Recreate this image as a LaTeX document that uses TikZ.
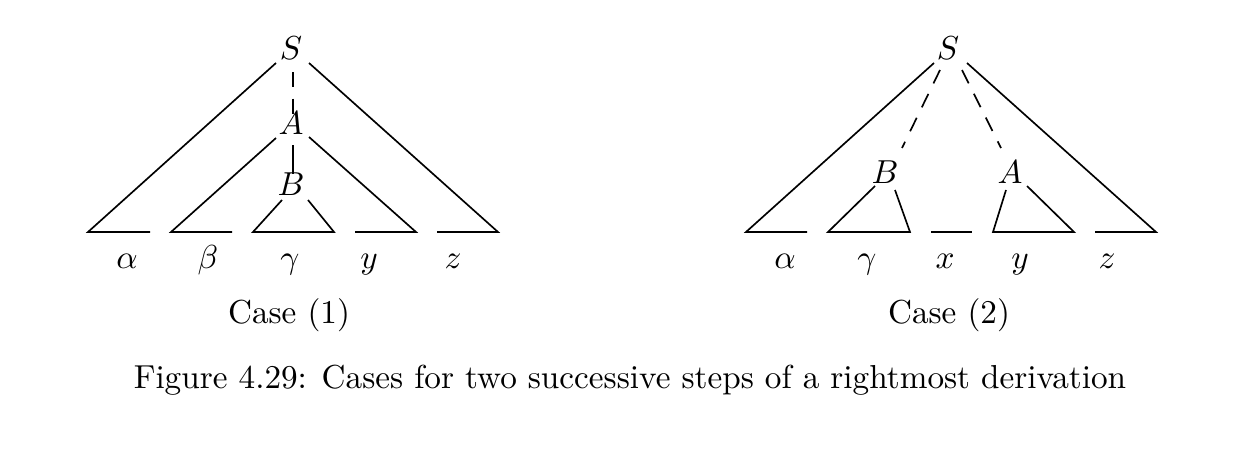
\documentclass[tikz,border=0pt]{standalone}
\begin{document}
\begin{tikzpicture}[x=0.301pt,y=-0.301pt,
  lbl/.style={anchor=base, inner sep=0pt},
  edge/.style={line width=0.5pt},
  dsh/.style={line width=0.5pt, dash pattern=on 4.5pt off 3.5pt}]
\useasboundingbox (0,0) rectangle (1239,463);
% ---------- Case (1) ----------
\node[lbl] (S1) at (291,60) {$S$};
\node[lbl] (A1) at (291,134) {$A$};
\node[lbl] (B1) at (291,195) {$B$};
\coordinate (S1l) at (276,63);  \coordinate (S1r) at (309,63);
\coordinate (S1d) at (293,72);  \coordinate (A1u) at (293,117);
\coordinate (A1l) at (276,138); \coordinate (A1r) at (309,137);
\coordinate (A1d) at (293,145); \coordinate (B1u) at (293,174);
\coordinate (B1l) at (282,200); \coordinate (B1r) at (308,200);
\coordinate (p1) at (88,232);  \coordinate (p2) at (150,232);
\coordinate (p3) at (171,232); \coordinate (p4) at (232,232);
\coordinate (p5) at (253,232); \coordinate (p6) at (334,232);
\coordinate (p7) at (355,232); \coordinate (p8) at (416,232);
\coordinate (p9) at (437,232); \coordinate (p10) at (498,232);
\draw[edge] (S1l) -- (p1) -- (p2);
\draw[edge] (A1l) -- (p3) -- (p4);
\draw[edge] (B1l) -- (p5) -- (p6) -- (B1r);
\draw[edge] (p7) -- (p8) -- (A1r);
\draw[edge] (p9) -- (p10) -- (S1r);
\draw[dsh] (S1d) -- (A1u);
\draw[edge] (A1d) -- (B1u);
\node[lbl] (l1a) at (127,268) {$\alpha$};
\node[lbl] (l1b) at (208,268) {$\beta$};
\node[lbl] (l1c) at (290,268) {$\gamma$};
\node[lbl] (l1d) at (369,268) {$y$};
\node[lbl] (l1e) at (453,268) {$z$};
\node[lbl] (c1) at (289,323) {Case (1)};
% ---------- Case (2) ----------
\node[lbl] (S2) at (948,60) {$S$};
\node[lbl] (B2) at (885,183) {$B$};
\node[lbl] (A2) at (1010,183) {$A$};
\coordinate (S2l) at (934,63);  \coordinate (S2r) at (967,63);
\coordinate (S2dl) at (940,70); \coordinate (B2u) at (902,148);
\coordinate (S2dr) at (962,70); \coordinate (A2u) at (1001,148);
\coordinate (B2l) at (875,186); \coordinate (B2r) at (895,190);
\coordinate (A2l) at (1006,190); \coordinate (A2r) at (1027,186);
\coordinate (q1) at (746,232);  \coordinate (q2) at (807,232);
\coordinate (q3) at (828,232);  \coordinate (q4) at (910,232);
\coordinate (q5) at (931,232);  \coordinate (q6) at (972,232);
\coordinate (q7) at (993,232);  \coordinate (q8) at (1074,232);
\coordinate (q9) at (1095,232); \coordinate (q10) at (1156,232);
\draw[edge] (S2l) -- (q1) -- (q2);
\draw[edge] (B2l) -- (q3) -- (q4) -- (B2r);
\draw[edge] (q5) -- (q6);
\draw[edge] (A2l) -- (q7) -- (q8) -- (A2r);
\draw[edge] (q9) -- (q10) -- (S2r);
\draw[dsh] (S2dl) -- (B2u);
\draw[dsh] (S2dr) -- (A2u);
\node[lbl] (l2a) at (785,268) {$\alpha$};
\node[lbl] (l2b) at (867,268) {$\gamma$};
\node[lbl] (l2c) at (945,268) {$x$};
\node[lbl] (l2d) at (1020,268) {$y$};
\node[lbl] (l2e) at (1107,268) {$z$};
\node[lbl] (c2) at (949,323) {Case (2)};
% ---------- caption ----------
\node[lbl] (cap) at (630,388) {Figure 4.29: Cases for two successive steps of a rightmost derivation};
\end{tikzpicture}
\end{document}
